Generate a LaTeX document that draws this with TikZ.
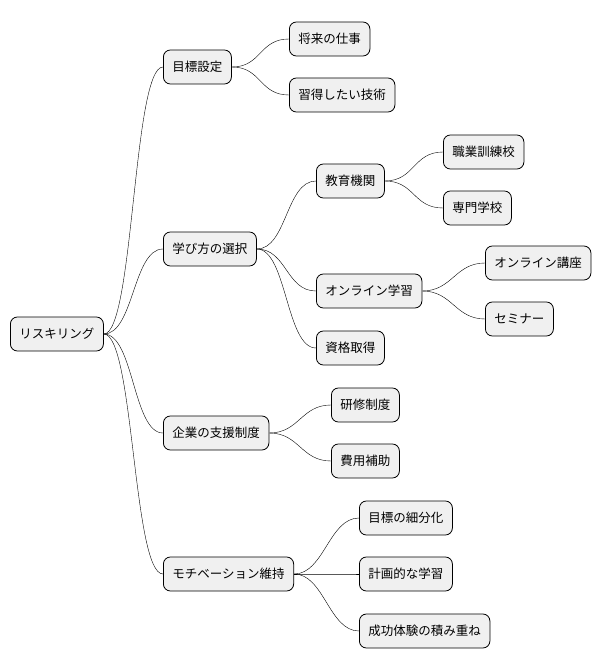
\documentclass[tikz,border=0pt]{standalone}
\usepackage{fontspec}
\setmainfont{Noto Sans CJK JP}
\usetikzlibrary{positioning}
\begin{document}
\begin{tikzpicture}[x=1pt, y=-1pt,
    MAP/.style={rectangle, rounded corners=7pt, draw=black, fill=black!6, thick, minimum height=34pt, inner xsep=9pt, anchor=west, font=\fontsize{12.5}{14}\selectfont},
    ]
        \useasboundingbox (0,0) rectangle (614,668);
        \node[MAP] (root) at (10,334) {リスキリング};

        \node[MAP] (goal) at (163,67) {目標設定};
        \node[MAP] (job) at (289,39) {将来の仕事};
        \node[MAP] (skill) at (289,95) {習得したい技術};

        \node[MAP] (learn) at (163,249) {学び方の選択};
        \node[MAP] (school) at (316,181) {教育機関};
        \node[MAP] (voc) at (443,152) {職業訓練校};
        \node[MAP] (tech) at (443,208) {専門学校};
        \node[MAP] (online) at (316,291) {オンライン学習};
        \node[MAP] (course) at (485,263) {オンライン講座};
        \node[MAP] (seminar) at (485,319) {セミナー};
        \node[MAP] (cert) at (316,348) {資格取得};

        \node[MAP] (corp) at (163,433) {企業の支援制度};
        \node[MAP] (train) at (331,405) {研修制度};
        \node[MAP] (cost) at (331,461) {費用補助};

        \node[MAP] (motiv) at (163,574) {モチベーション維持};
        \node[MAP] (small) at (359,518) {目標の細分化};
        \node[MAP] (plan) at (359,574) {計画的な学習};
        \node[MAP] (success) at (359,631) {成功体験の積み重ね};

        \foreach \p/\c in {root/goal, root/learn, root/corp, root/motiv,
                           goal/job, goal/skill,
                           learn/school, learn/online, learn/cert,
                           school/voc, school/tech,
                           online/course, online/seminar,
                           corp/train, corp/cost,
                           motiv/small, motiv/plan, motiv/success}
            \draw (\p.east) .. controls ([xshift=30pt] \p.east) and ([xshift=-30pt] \c.west) .. (\c.west);
    \end{tikzpicture}
\end{document}
